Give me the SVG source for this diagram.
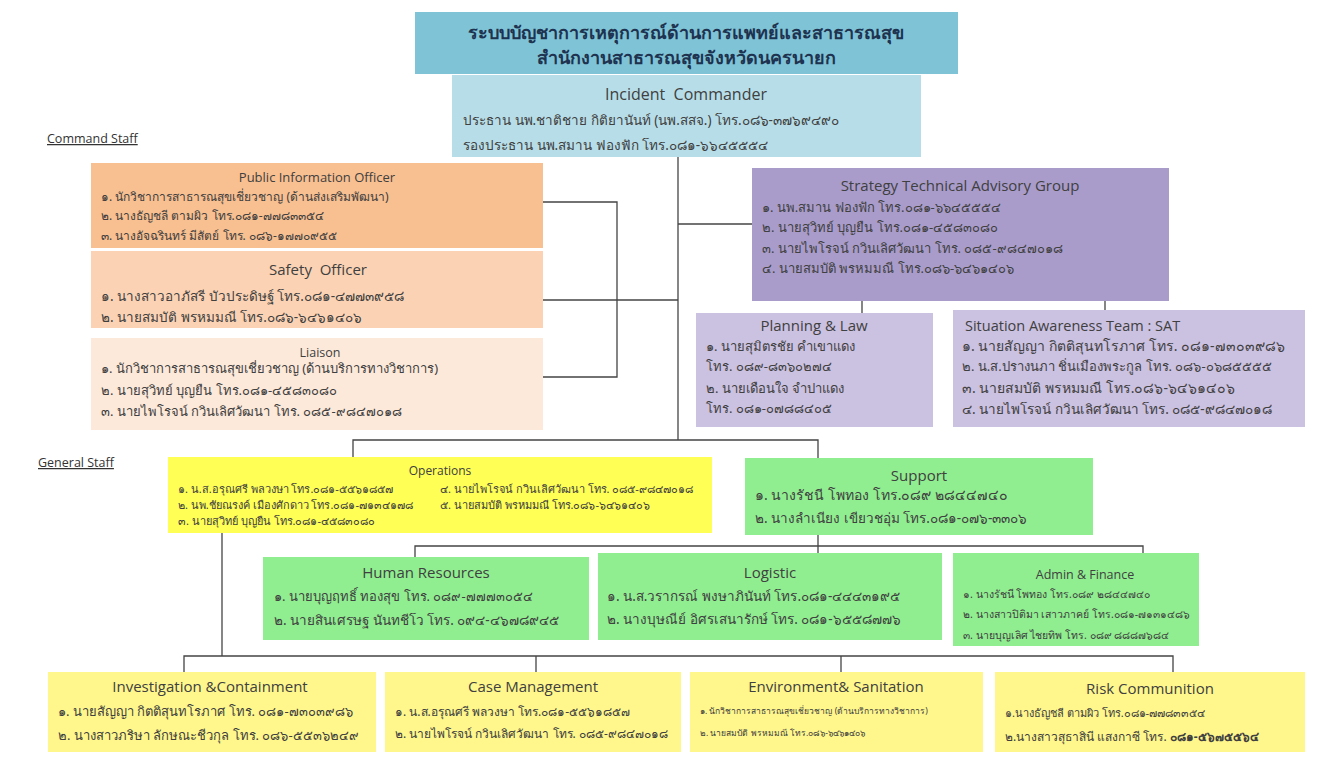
<svg xmlns="http://www.w3.org/2000/svg" width="1317" height="769" viewBox="0 0 1317 769">
<style>
text{font-family:"Noto Sans","DejaVu Sans","Liberation Sans",sans-serif;fill:#404040}
.ttl{font-family:"Open Sans","Liberation Sans",sans-serif;text-anchor:middle;font-size:15px}
.f85{font-size:8.5px}
.f105{font-size:10.5px}
.f11{font-size:11px}
.f12{font-size:12px}
.f13{font-size:13px}
.f135{font-size:13.5px}
.f14{font-size:14px}
.main{font-size:18px;font-weight:bold;fill:#1e3350;text-anchor:middle}
.lbl{font-family:"Open Sans","Liberation Sans",sans-serif;font-size:12.5px;text-decoration:underline;fill:#333}
.conn{fill:none;stroke:#444;stroke-width:1.3}
.title-box{fill:#7fc4d6}
.ic{fill:#b7dee8}
.pio{fill:#f8bf90}
.safe{fill:#fbd3b4}
.liai{fill:#fde9da}
.stag{fill:#a99ccb}
.lpur{fill:#cbc1e0}
.ops{fill:#ffff55}
.grn{fill:#90ee90}
.ylw{fill:#fff78c}
</style>
<rect width="1317" height="769" fill="#ffffff"/>
<g id="connectors">
<path class="conn" d="M678,157 V440"/>
<path class="conn" d="M678,224 H752"/>
<path class="conn" d="M543,300 H678"/>
<path class="conn" d="M543,202 H617 V377 H543"/>
<path class="conn" d="M862,301 V313"/>
<path class="conn" d="M1105,301 V310"/>
<path class="conn" d="M353,457 V440 H818 V458"/>
<path class="conn" d="M818,535 V553"/>
<path class="conn" d="M415,557 V546 H1143 V553"/>
<path class="conn" d="M222,533 V656"/>
<path class="conn" d="M184,672 V656 H1173 V672"/>
<path class="conn" d="M536,656 V672"/>
<path class="conn" d="M841,656 V672"/>
</g>
<g id="title">
<rect class="title-box" x="415" y="12" width="543" height="62"/>
<text class="main" x="686" y="39">ระบบบัญชาการเหตุการณ์ด้านการแพทย์และสาธารณสุข</text>
<text class="main" x="686" y="64">สำนักงานสาธารณสุขจังหวัดนครนายก</text>
</g>
<g id="incident-commander">
<rect class="ic" x="452" y="75" width="469" height="82"/>
<text class="ttl" x="686" y="100" style="font-size:16px">Incident&#160; Commander</text>
<text class="f135" x="463" y="125">ประธาน นพ.ชาติชาย กิติยานันท์ (นพ.สสจ.) โทร.๐๘๖-๓๗๖๙๔๙๐</text>
<text class="f135" x="463" y="150">รองประธาน นพ.สมาน ฟองฟัก โทร.๐๘๑-๖๖๔๕๕๕๔</text>
</g>
<text class="lbl" x="47" y="143">Command Staff</text>
<text class="lbl" x="38" y="467">General Staff</text>
<g id="public-information-officer">
<rect class="pio" x="91" y="163" width="452" height="85"/>
<text class="ttl" x="317" y="182" style="font-size:13px">Public Information Officer</text>
<text class="f12" x="101" y="201">๑. นักวิชาการสาธารณสุขเชี่ยวชาญ (ด้านส่งเสริมพัฒนา)</text>
<text class="f12" x="101" y="220">๒. นางธัญชลี  ตามผิว โทร.๐๘๑-๗๗๘๓๓๕๔</text>
<text class="f12" x="101" y="240">๓. นางอัจฉรินทร์  มีสัตย์ โทร. ๐๘๖-๑๗๗๐๙๕๕</text>
</g>
<g id="safety-officer">
<rect class="safe" x="91" y="251" width="452" height="77"/>
<text class="ttl" x="318" y="275">Safety&#160; Officer</text>
<text class="f135" x="101" y="301">๑. นางสาวอาภัสรี บัวประดิษฐ์ โทร.๐๘๑-๔๗๗๓๙๕๘</text>
<text class="f135" x="101" y="322">๒. นายสมบัติ พรหมมณี  โทร.๐๘๖-๖๔๖๑๔๐๖</text>
</g>
<g id="liaison">
<rect class="liai" x="91" y="338" width="452" height="92"/>
<text class="ttl" x="320" y="357" style="font-size:12.5px">Liaison</text>
<text class="f13" x="101" y="373">๑. นักวิชาการสาธารณสุขเชี่ยวชาญ (ด้านบริการทางวิชาการ)</text>
<text class="f13" x="101" y="395">๒. นายสุวิทย์  บุญยืน โทร.๐๘๑-๔๕๘๓๐๘๐</text>
<text class="f13" x="101" y="416">๓. นายไพโรจน์ กวินเลิศวัฒนา โทร. ๐๘๕-๙๘๔๗๐๑๘</text>
</g>
<g id="strategy-technical-advisory-group">
<rect class="stag" x="752" y="168" width="417" height="133"/>
<text class="ttl" x="960" y="191">Strategy Technical Advisory Group</text>
<text class="f13" x="762" y="212">๑. นพ.สมาน ฟองฟัก  โทร.๐๘๑-๖๖๔๕๕๕๔</text>
<text class="f13" x="762" y="232">๒. นายสุวิทย์  บุญยืน โทร.๐๘๑-๔๕๘๓๐๘๐</text>
<text class="f13" x="762" y="253">๓. นายไพโรจน์ กวินเลิศวัฒนา โทร. ๐๘๕-๙๘๔๗๐๑๘</text>
<text class="f13" x="762" y="273">๔. นายสมบัติ พรหมมณี  โทร.๐๘๖-๖๔๖๑๔๐๖</text>
</g>
<g id="planning-law">
<rect class="lpur" x="696" y="313" width="237" height="114"/>
<text class="ttl" x="814" y="331">Planning &amp; Law</text>
<text class="f13" x="706" y="351">๑. นายสุมิตรชัย คำเขาแดง</text>
<text class="f13" x="706" y="371">โทร. ๐๘๙-๘๓๖๐๒๗๔</text>
<text class="f13" x="706" y="393">๒. นายเดือนใจ  จำปาแดง</text>
<text class="f13" x="706" y="413">โทร. ๐๘๑-๐๗๘๘๔๐๕</text>
</g>
<g id="situation-awareness-team">
<rect class="lpur" x="953" y="310" width="352" height="117"/>
<text class="ttl" x="965" y="331" style="text-anchor:start;font-size:14.5px">Situation Awareness Team : SAT</text>
<text class="f14" x="962" y="351">๑. นายสัญญา กิตติสุนทโรภาศ โทร. ๐๘๑-๗๓๐๓๙๘๖</text>
<text class="f13" x="962" y="371">๒. น.ส.ปรางนภา ชิ่นเมืองพระกูล โทร. ๐๘๖-๐๖๘๕๕๕๕</text>
<text class="f14" x="962" y="393">๓. นายสมบัติ พรหมมณี  โทร.๐๘๖-๖๔๖๑๔๐๖</text>
<text class="f135" x="962" y="414">๔. นายไพโรจน์ กวินเลิศวัฒนา โทร. ๐๘๕-๙๘๔๗๐๑๘</text>
</g>
<g id="operations">
<rect class="ops" x="168" y="457" width="544" height="76"/>
<text class="ttl" x="440" y="475" style="font-size:12px">Operations</text>
<text class="f11" x="178" y="493">๑. น.ส.อรุณศรี พลวงษา โทร.๐๘๑-๕๕๖๑๘๕๗</text>
<text class="f11" x="440" y="493">๔. นายไพโรจน์ กวินเลิศวัฒนา โทร. ๐๘๕-๙๘๔๗๐๑๘</text>
<text class="f11" x="178" y="509">๒. นพ.ชัยณรงค์ เมืองศักดาว โทร.๐๘๑-๗๑๓๔๑๗๘</text>
<text class="f11" x="440" y="509">๕. นายสมบัติ พรหมมณี  โทร.๐๘๖-๖๔๖๑๔๐๖</text>
<text class="f11" x="178" y="525">๓. นายสุวิทย์  บุญยืน โทร.๐๘๑-๔๕๘๓๐๘๐</text>
</g>
<g id="support">
<rect class="grn" x="745" y="458" width="348" height="77"/>
<text class="ttl" x="919" y="481">Support</text>
<text class="f14" x="755" y="500">๑. นางรัชนี  โพทอง โทร.๐๘๙ ๒๘๔๔๗๔๐</text>
<text class="f135" x="755" y="523">๒. นางลำเนียง เขียวชอุ่ม โทร.๐๘๑-๐๗๖-๓๓๐๖</text>
</g>
<g id="human-resources">
<rect class="grn" x="263" y="557" width="326" height="83"/>
<text class="ttl" x="426" y="578">Human Resources</text>
<text class="f13" x="274" y="601">๑. นายบุญฤทธิ์ ทองสุข โทร. ๐๘๙-๗๗๗๓๐๕๔</text>
<text class="f135" x="274" y="625">๒. นายสินเศรษฐ นันทชีโว โทร. ๐๙๔-๔๖๗๘๙๔๕</text>
</g>
<g id="logistic">
<rect class="grn" x="598" y="553" width="344" height="87"/>
<text class="ttl" x="770" y="578">Logistic</text>
<text class="f135" x="607" y="601">๑. น.ส.วรากรณ์ พงษาภินันท์ โทร.๐๘๑-๔๔๔๓๑๙๕</text>
<text class="f135" x="607" y="624">๒. นางบุษณีย์  อิศรเสนารักษ์ โทร. ๐๘๑-๖๕๕๘๗๗๖</text>
</g>
<g id="admin-finance">
<rect class="grn" x="953" y="553" width="246" height="93"/>
<text class="ttl" x="1085" y="579" style="font-size:12.5px">Admin &amp; Finance</text>
<text class="f105" x="963" y="598">๑. นางรัชนี  โพทอง โทร.๐๘๙ ๒๘๔๔๗๔๐</text>
<text class="f105" x="963" y="618">๒. นางสาวปิติมา เสาวภาคย์ โทร.๐๘๑-๗๑๓๑๔๘๖</text>
<text class="f105" x="963" y="639">๓. นายบุญเลิศ ไชยทิพ โทร. ๐๘๙ ๘๘๘๗๖๘๔</text>
</g>
<g id="investigation-containment">
<rect class="ylw" x="48" y="672" width="328" height="80"/>
<text class="ttl" x="210" y="692">Investigation &amp;Containment</text>
<text class="f13" x="58" y="716">๑. นายสัญญา กิตติสุนทโรภาศ โทร. ๐๘๑-๗๓๐๓๙๘๖</text>
<text class="f13" x="58" y="740">๒. นางสาวภริษา ลักษณะชีวกุล โทร. ๐๘๖-๕๕๓๖๒๔๙</text>
</g>
<g id="case-management">
<rect class="ylw" x="385" y="672" width="296" height="80"/>
<text class="ttl" x="533" y="692">Case Management</text>
<text class="f12" x="395" y="716">๑. น.ส.อรุณศรี พลวงษา โทร.๐๘๑-๕๕๖๑๘๕๗</text>
<text class="f12" x="395" y="738">๒. นายไพโรจน์ กวินเลิศวัฒนา โทร. ๐๘๕-๙๘๔๗๐๑๘</text>
</g>
<g id="environment-sanitation">
<rect class="ylw" x="690" y="672" width="293" height="80"/>
<text class="ttl" x="836" y="692">Environment&amp; Sanitation</text>
<text class="f85" x="700" y="714">๑. นักวิชาการสาธารณสุขเชี่ยวชาญ (ด้านบริการทางวิชาการ)</text>
<text class="f85" x="700" y="736">๒. นายสมบัติ พรหมมณี  โทร.๐๘๖-๖๔๖๑๔๐๖</text>
</g>
<g id="risk-communition">
<rect class="ylw" x="995" y="672" width="310" height="80"/>
<text class="ttl" x="1150" y="694">Risk Communition</text>
<text class="f11" x="1005" y="717">๑.นางธัญชลี  ตามผิว โทร.๐๘๑-๗๗๘๓๓๕๔</text>
<text class="f12" x="1005" y="741">๒.นางสาวสุธาสินี แสงกาซี โทร. <tspan style="font-weight:bold">๐๘๑-๕๖๗๕๕๖๔</tspan></text>
</g>
</svg>
